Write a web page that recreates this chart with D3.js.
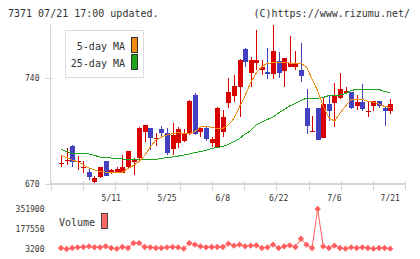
<!DOCTYPE html>
<html><head><meta charset="utf-8">
<script src="https://cdn.jsdelivr.net/npm/d3@7"></script>
<style>html,body{margin:0;padding:0;background:#fff;}svg{display:block;}</style>
</head><body>
<svg id="c" width="420" height="259"></svg>
<script>
// ---- data ----
const dateLabels = ["5/11","5/25","6/8","6/22","7/6","7/21"];
const dateLabelIdx = [9,19,29,39,49,59];
const priceTicks = [670, 740];
const volTicks = [3200, 177550, 351900];

const open  = [684.1,685.9,695.2,685.5,681.3,678.1,671.5,674.4,685.2,677.1,
               677.5,677.5,681.5,684.8,686.9,704.6,706.9,700.7,706.4,703.6,
               693.4,697.0,698.7,702.9,728.9,704.6,706.9,697.0,694.7,704.6,
               723.8,728.3,734.4,759.4,743.3,749.9,745.5,744.4,742.8,751.5,
               745.0,747.7,747.7,745.5,720.1,705.1,720.1,700.7,723.0,723.8,
               726.8,730.5,730.7,721.9,724.3,718.5,721.9,725.0,720.5,718.5];
const high  = [688.5,693.6,695.5,688.7,685.3,679.7,675.3,681.5,685.5,679.9,
               681.5,689.2,692.0,687.5,707.5,709.1,706.9,704.0,708.4,707.3,
               710.2,707.9,706.4,725.6,730.5,708.0,707.5,701.3,721.2,719.0,
               740.0,742.2,752.5,760.3,753.9,772.0,752.1,759.9,775.3,757.2,
               753.6,768.0,758.1,763.6,732.9,715.0,720.1,726.8,728.9,736.7,
               743.3,734.0,730.7,728.9,736.2,725.0,725.0,725.0,721.2,726.3];
const low   = [681.5,682.6,681.5,679.6,677.5,672.6,670.5,673.8,675.0,676.5,
               677.1,677.1,680.4,675.9,686.5,698.0,692.5,695.2,701.3,689.2,
               689.2,693.6,698.0,702.5,702.5,701.0,698.7,694.7,693.6,701.3,
               720.1,724.5,714.6,747.7,734.4,745.5,742.2,739.3,739.3,740.0,
               734.4,747.7,745.5,737.7,703.1,704.6,699.1,700.3,711.7,708.0,
               726.1,729.4,719.7,719.0,718.3,714.6,718.3,720.1,708.6,716.4];
const close = [684.1,685.9,684.8,685.5,681.3,674.8,674.2,681.1,675.3,679.3,
               679.9,681.1,691.9,685.9,707.1,709.1,700.7,700.7,703.6,690.7,
               702.5,706.4,703.1,725.0,703.1,706.9,699.6,699.6,720.1,714.2,
               731.1,734.9,752.1,751.0,752.1,752.1,747.7,742.8,758.1,743.7,
               753.6,749.9,749.7,741.7,708.7,705.1,699.1,723.0,718.3,728.5,
               732.9,731.8,720.1,724.3,719.7,718.5,725.0,721.9,718.5,723.0];
const ma5   = [689.2,687.5,685.9,684.8,682.6,680.6,679.3,678.3,677.9,677.5,
               677.5,677.9,680.3,682.3,684.9,688.9,694.5,699.1,701.1,702.5,
               703.4,704.0,703.4,703.1,704.8,707.7,708.4,707.4,706.9,706.8,
               709.1,713.4,721.3,728.6,737.2,743.5,747.8,749.9,750.3,750.3,
               750.3,750.1,749.9,749.8,747.7,739.5,731.6,721.2,714.0,711.5,
               716.8,721.7,726.0,726.1,726.0,724.8,724.3,723.0,721.3,720.7];
const ma25  = [693.0,691.4,690.3,689.9,689.9,689.9,688.9,687.9,687.4,687.2,
               687.0,686.6,686.2,685.9,685.9,685.9,685.9,686.2,687.0,687.5,
               687.9,688.5,689.2,689.9,690.9,691.5,692.3,693.5,694.2,694.8,
               696.2,698.1,700.1,703.1,705.4,709.1,711.1,712.7,714.4,717.0,
               719.3,721.7,723.3,725.3,726.8,726.8,726.8,727.3,728.6,728.9,
               728.9,729.9,731.9,732.7,732.7,732.7,732.7,732.6,731.3,730.3];
const volume= [11800,3200,11800,17600,20500,26300,17600,17600,26300,11800,
               4500,20500,11800,55100,55100,20500,17600,11800,11800,17600,
               20500,17600,6100,55100,40700,26300,17600,20500,20500,20500,
               49300,32000,40700,26300,32000,34900,11800,17600,40700,11800,
               26300,34900,20500,92500,40700,11800,351900,26300,11800,32000,
               11800,6100,17600,11800,17600,11800,6100,11800,11800,6100];

// ---- style ----
const FONT = "'DejaVu Sans Mono', monospace";
const C_UP = "#d80000", C_DN = "#4242c0", C_MA5 = "#f08a10", C_MA25 = "#1ca51c";
const C_VOL = "#ff5f5f", C_AXIS = "#d4d4d4", C_TEXT = "#333";

const svg = d3.select("#c");
const n = close.length;
const x = d3.scaleLinear().domain([0, n - 1]).range([61, 390.2]);
const y = d3.scaleLinear().domain([670, 775.3]).range([184, 25]);
const yv = d3.scaleLinear().domain([3200, 351900]).range([249, 209]);
const xt = d3.scaleLinear().domain([0, 11]).range([50.7, 405.3]);

// title
svg.append("text").attr("x", 8).attr("y", 17).attr("font-family", FONT).attr("font-size", 10)
  .attr("fill", C_TEXT).text("7371 07/21 17:00 updated.");
svg.append("text").attr("x", 410).attr("y", 17).attr("text-anchor", "end").attr("font-family", FONT)
  .attr("font-size", 10).attr("fill", C_TEXT).text("(C)https://www.rizumu.net/");

// axes
svg.append("line").attr("x1", 50.5).attr("x2", 50.5).attr("y1", 25).attr("y2", 184)
  .attr("stroke", C_AXIS).attr("stroke-width", 1);
svg.append("line").attr("x1", 50).attr("x2", 406).attr("y1", 184).attr("y2", 184)
  .attr("stroke", C_AXIS).attr("stroke-width", 2);
svg.append("g").selectAll("line").data(d3.range(12)).join("line")
  .attr("x1", d => Math.round(xt(d)) + 0.5).attr("x2", d => Math.round(xt(d)) + 0.5)
  .attr("y1", 181).attr("y2", 190).attr("stroke", C_AXIS).attr("stroke-width", 1);
svg.append("g").selectAll("line").data(priceTicks).join("line")
  .attr("x1", 45).attr("x2", d => d === 670 ? 51 : 53)
  .attr("y1", d => Math.round(y(d)) + 0.5).attr("y2", d => Math.round(y(d)) + 0.5)
  .attr("stroke", C_AXIS).attr("stroke-width", 1);
svg.append("g").selectAll("text").data(priceTicks).join("text")
  .attr("x", 39.5).attr("y", d => y(d) + 3).attr("text-anchor", "end")
  .attr("font-family", FONT).attr("font-size", 8).attr("fill", C_TEXT).text(d => d);
svg.append("g").selectAll("text").data(dateLabels).join("text")
  .attr("x", (d, i) => x(dateLabelIdx[i])).attr("y", 201).attr("text-anchor", "middle")
  .attr("font-family", FONT).attr("font-size", 8).attr("fill", C_TEXT).text(d => d);

// candles
const idx = d3.range(n);
const g = svg.append("g").attr("shape-rendering", "crispEdges");
g.selectAll("line.w").data(idx).join("line").attr("class", "w")
  .attr("x1", i => Math.round(x(i)) + 0.5).attr("x2", i => Math.round(x(i)) + 0.5)
  .attr("y1", i => y(high[i])).attr("y2", i => y(low[i]))
  .attr("stroke", i => close[i] >= open[i] ? C_UP : C_DN).attr("stroke-width", 1);
g.selectAll("rect.b").data(idx).join("rect").attr("class", "b")
  .attr("x", i => Math.round(x(i)) - 2).attr("width", 5)
  .attr("y", i => y(Math.max(open[i], close[i])))
  .attr("height", i => Math.max(1, Math.abs(y(open[i]) - y(close[i]))))
  .attr("fill", i => close[i] >= open[i] ? C_UP : C_DN);

// moving averages
const line = arr => d3.line().x((d, i) => x(i)).y(d => y(d))(arr);
svg.append("path").attr("d", line(ma25)).attr("fill", "none").attr("stroke", C_MA25)
  .attr("stroke-width", 1).attr("shape-rendering", "crispEdges");
svg.append("path").attr("d", line(ma5)).attr("fill", "none").attr("stroke", C_MA5)
  .attr("stroke-width", 1).attr("shape-rendering", "crispEdges");

// legend
svg.append("rect").attr("x", 65.5).attr("y", 30.5).attr("width", 78).attr("height", 47)
  .attr("fill", "#fff").attr("stroke", "#dcdcdc");
[["5-day MA", C_MA5, 50, 37.5], ["25-day MA", C_MA25, 67, 54.5]].forEach(([t, c, ty, ry]) => {
  svg.append("text").attr("x", 125).attr("y", ty).attr("text-anchor", "end")
    .attr("font-family", FONT).attr("font-size", 10).attr("fill", C_TEXT).text(t);
  svg.append("rect").attr("x", 131.5).attr("y", ry).attr("width", 6).attr("height", 15)
    .attr("fill", c).attr("stroke", "#333");
});

// volume
svg.append("g").selectAll("text").data(volTicks).join("text")
  .attr("x", 44.5).attr("y", d => yv(d) + 3).attr("text-anchor", "end")
  .attr("font-family", FONT).attr("font-size", 8).attr("fill", C_TEXT).text(d => d);
svg.append("text").attr("x", 59).attr("y", 225.5).attr("font-family", FONT).attr("font-size", 10)
  .attr("fill", C_TEXT).text("Volume");
svg.append("rect").attr("x", 101.5).attr("y", 213.5).attr("width", 6).attr("height", 15)
  .attr("fill", "#ff6666").attr("stroke", "#444");
svg.append("path").attr("d", d3.line().x((d, i) => x(i)).y(d => yv(d))(volume))
  .attr("fill", "none").attr("stroke", C_VOL).attr("stroke-width", 1);
svg.append("g").selectAll("path").data(volume).join("path")
  .attr("d", d3.symbol().type(d3.symbolSquare).size(20))
  .attr("transform", (d, i) => `translate(${x(i)},${yv(d)}) rotate(45)`)
  .attr("fill", C_VOL);
</script>
</body></html>
